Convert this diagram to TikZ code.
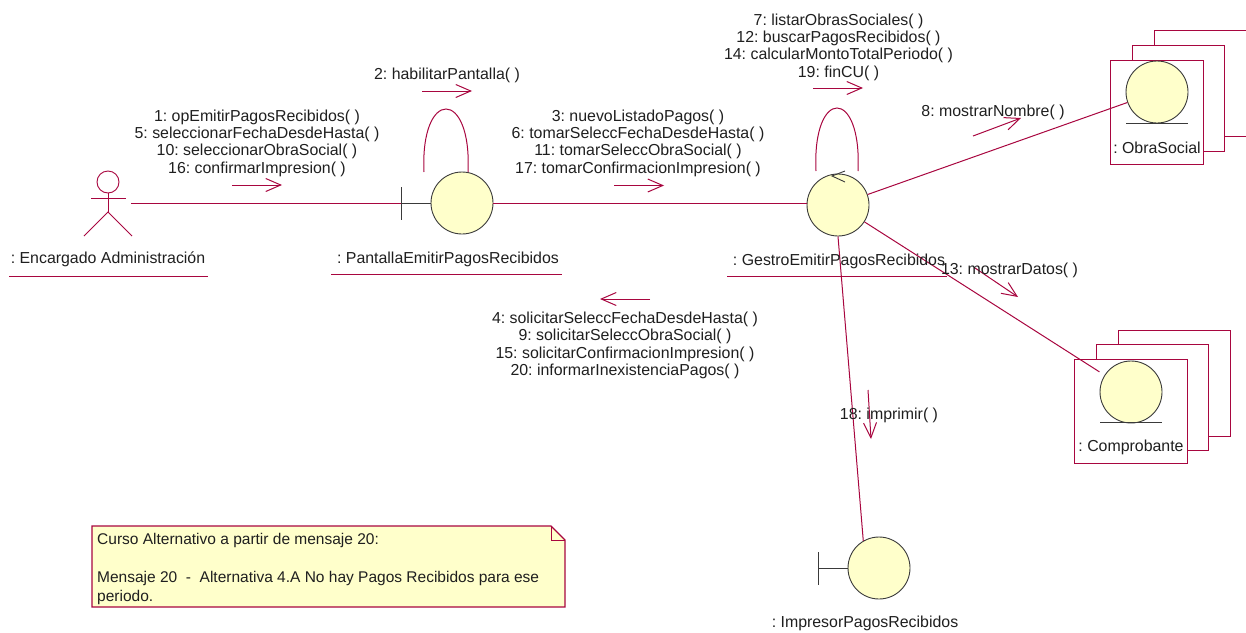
\documentclass[tikz,border=0pt]{standalone}
\usepackage{fontspec}
\setmainfont{Liberation Sans}
\usetikzlibrary{arrows.meta}

\definecolor{umlred}{HTML}{A8063F}
\definecolor{umlfill}{HTML}{FFFFCB}
\definecolor{umlgray}{HTML}{3A3A3A}

\frenchspacing

\tikzset{
	link/.style={draw=umlred, line width=1pt},
	msg/.style={link, -{Straight Barb[length=15pt, width=13pt]}},
	robust/.style={circle, draw=umlgray, fill=umlfill, line width=0.9pt, minimum size=62pt, inner sep=0pt},
	objbox/.style={rectangle, draw=umlred, fill=white, line width=0.9pt, inner sep=0pt},
	stem/.style={draw=umlgray, line width=0.9pt},
	label/.style={font=\fontsize{15.9}{17.4}\selectfont, align=center, inner sep=0pt, text=black!88, yshift=-2pt}
}

\begin{document}
\begin{tikzpicture}[x=1pt, y=-1pt]
		\useasboundingbox (0,0) rectangle (1246,632);
		\clip (0,0) rectangle (1246,632);

		% free ends
		\coordinate (actorhand) at (131,203);
		\coordinate (loopPa) at (424,172);
		\coordinate (loopPb) at (468,172);
		\coordinate (loopGa) at (816,171);
		\coordinate (loopGb) at (858,171);

		% draw the stacked objects
		\node (obra3) at (1212,83) [objbox, minimum width=116pt, minimum height=106pt] {};
		\node (obra2) at (1178,98) [objbox, minimum width=92pt, minimum height=106pt] {};
		\node (obra1) at (1156.5,112) [objbox, minimum width=93pt, minimum height=104pt] {};
		\node (comp3) at (1174,383) [objbox, minimum width=112pt, minimum height=106pt] {};
		\node (comp2) at (1152,397) [objbox, minimum width=112pt, minimum height=106pt] {};
		\node (comp1) at (1130.5,411) [objbox, minimum width=113pt, minimum height=104pt] {};

		% draw the circles
		\node (pantalla) at (462,203) [robust] {};
		\node (gestro) at (838,205) [robust] {};
		\node (obrasocial) at (1157,92) [robust] {};
		\node (comprobante) at (1131,392) [robust] {};
		\node (impresor) at (879,568) [robust] {};

		% draw the actor
		\node (head) at (108,182) [circle, draw=umlred, line width=0.9pt, minimum size=22pt, inner sep=0pt] {};
		\coordinate (hip) at (108,212);
		\coordinate (armL) at (91,198);
		\coordinate (armR) at (126,198);
		\coordinate (footL) at (84,236);
		\coordinate (footR) at (132,236);
		\draw [link] (head) -- (hip);
		\draw [link] (armL) -- (armR);
		\draw [link] (footL) -- (hip) -- (footR);

		% draw the boundary bars and entity lines
		\coordinate (barP) at (401,203);
		\coordinate (barI) at (818,568);
		\draw [stem] (barP) -- (pantalla);
		\draw [stem] (401,187) -- (401,220);
		\draw [stem] (barI) -- (impresor);
		\draw [stem] (818,552) -- (818,585);
		\draw [stem] (1126,123) -- (1188,123);
		\draw [stem] (1100,422) -- (1162,422);

		% draw associations
		\draw [link] (actorhand) -- (barP);
		\draw [link] (pantalla) -- (gestro.west |- pantalla);
		\draw [link] (gestro) -- (obrasocial);
		\draw [link, shorten >=6pt] (gestro) -- (comprobante);
		\draw [link] (gestro.south) -- (impresor.120);
		\draw [link] (loopPa) .. controls (420,88) and (472,88) .. (loopPb);
		\draw [link] (loopGa) .. controls (812,87) and (862,87) .. (loopGb);
		\draw [stem] (845,171) -- (832,176) -- (845,182);

		% draw messages
		\coordinate (m1a) at (232,185);
		\coordinate (m1b) at (282,185);
		\draw [msg] (m1a) -- (m1b);
		\coordinate (m2a) at (422,91);
		\coordinate (m2b) at (472,91);
		\draw [msg] (m2a) -- (m2b);
		\coordinate (m3a) at (614,185.5);
		\coordinate (m3b) at (664,185.5);
		\draw [msg] (m3a) -- (m3b);
		\coordinate (m4a) at (650,299);
		\coordinate (m4b) at (600,299);
		\draw [msg] (m4a) -- (m4b);
		\coordinate (m7a) at (813,88);
		\coordinate (m7b) at (863,88);
		\draw [msg] (m7a) -- (m7b);
		\coordinate (m8a) at (973,136);
		\coordinate (m8b) at (1021,118);
		\draw [msg] (m8a) -- (m8b);
		\coordinate (m13a) at (975,268);
		\coordinate (m13b) at (1018,297);
		\draw [msg] (m13a) -- (m13b);
		\coordinate (m18a) at (868,390);
		\coordinate (m18b) at (871,439);
		\draw [msg] (m18a) -- (m18b);

		% draw the labels
		\node (msgA) at (257,141) [label] {1: opEmitirPagosRecibidos( )\\5: seleccionarFechaDesdeHasta( )\\10: seleccionarObraSocial( )\\16: confirmarImpresion( )};
		\node (msgB) at (447,73) [label] {2: habilitarPantalla( )};
		\node (msgC) at (638,141) [label] {3: nuevoListadoPagos( )\\6: tomarSeleccFechaDesdeHasta( )\\11: tomarSeleccObraSocial( )\\17: tomarConfirmacionImpresion( )};
		\node (msgD) at (625,343.5) [label] {4: solicitarSeleccFechaDesdeHasta( )\\9: solicitarSeleccObraSocial( )\\15: solicitarConfirmacionImpresion( )\\20: informarInexistenciaPagos( )};
		\node (msgE) at (838.5,45) [label] {7: listarObrasSociales( )\\12: buscarPagosRecibidos( )\\14: calcularMontoTotalPeriodo( )\\19: finCU( )};
		\node (msgF) at (993,110) [label] {8: mostrarNombre( )};
		\node (msgG) at (1009.5,268) [label] {13: mostrarDatos( )};
		\node (msgH) at (889,413) [label] {18: imprimir( )};

		\node (nameA) at (108,257) [label] {: Encargado Administración};
		\node (nameP) at (448,257) [label] {: PantallaEmitirPagosRecibidos};
		\node (nameG) at (839,259) [label] {: GestroEmitirPagosRecibidos};
		\node (nameO) at (1157,146) [label] {: ObraSocial};
		\node (nameC) at (1131,445) [label] {: Comprobante};
		\node (nameI) at (865,621) [label] {: ImpresorPagosRecibidos};

		% draw underlines
		\draw [link] (9,276) -- (208,276);
		\draw [link] (331,274) -- (562,274);
		\draw [link] (727,276) -- (947,276);

		% draw the note
		\draw [link, fill=umlfill, line width=1.3pt] (92,526) -- (551,526) -- (565,540) -- (565,607) -- (92,607) -- cycle;
		\draw [link] (551,526) -- (551,540) -- (565,540);
		\node (note) at (97,566.5) [label, anchor=west, align=left, font=\fontsize{15.5}{19}\selectfont] {Curso Alternativo a partir de mensaje 20:\\[0pt]\mbox{}\\Mensaje 20 \ - \ Alternativa 4.A No hay Pagos Recibidos para ese\\periodo.};
\end{tikzpicture}
\end{document}
